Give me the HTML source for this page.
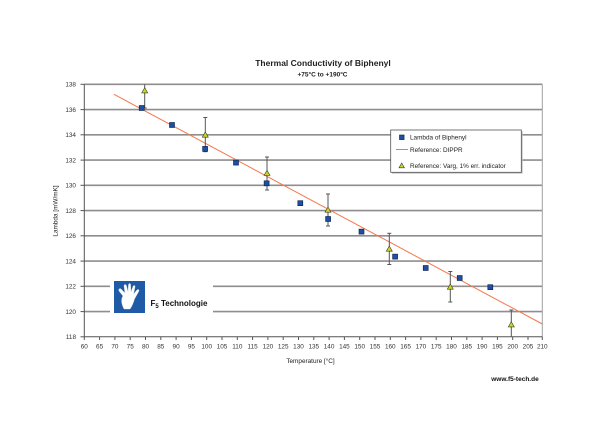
<!DOCTYPE html>
<html><head><meta charset="utf-8"><style>
html,body{margin:0;padding:0;background:#fff;}
svg{display:block;font-family:"Liberation Sans",Arial,sans-serif;}
</style></head><body>
<svg width="600" height="424" viewBox="0 0 600 424" xmlns="http://www.w3.org/2000/svg">
<rect width="600" height="424" fill="#fff"/>
<!-- title -->
<text x="323" y="66" font-size="8.5" font-weight="bold" text-anchor="middle" fill="#222">Thermal Conductivity of Biphenyl</text>
<text x="322.5" y="76.5" font-size="6.5" font-weight="bold" text-anchor="middle" fill="#222">+75°C to +190°C</text>
<!-- gridlines -->
<g stroke="#8e8e8e" stroke-width="1.6">
<line x1="84.3" y1="84.3" x2="542.3" y2="84.3"/>
<line x1="84.3" y1="109.6" x2="542.3" y2="109.6"/>
<line x1="84.3" y1="134.8" x2="542.3" y2="134.8"/>
<line x1="84.3" y1="160.1" x2="542.3" y2="160.1"/>
<line x1="84.3" y1="185.3" x2="542.3" y2="185.3"/>
<line x1="84.3" y1="210.6" x2="542.3" y2="210.6"/>
<line x1="84.3" y1="235.8" x2="542.3" y2="235.8"/>
<line x1="84.3" y1="261.1" x2="542.3" y2="261.1"/>
<line x1="84.3" y1="286.3" x2="542.3" y2="286.3"/>
<line x1="84.3" y1="311.6" x2="542.3" y2="311.6"/>
</g>
<line x1="542.3" y1="84.3" x2="542.3" y2="336.8" stroke="#a0a0a0" stroke-width="1"/>
<!-- logo box -->
<rect x="110" y="275" width="103" height="43" fill="#fff"/>
<rect x="114" y="281" width="31" height="32" fill="#1f5aa6"/>
<g fill="#fff" stroke="#dfe6f0" stroke-width="0.4">
<path d="M124 309 C121 303 121 299 123 296 L119 291 C118 289 120 288 121 289 L125 293 L124 286 C124 284 126 284 126.5 286 L128 292 L128.5 285 C128.6 283 130.6 283 130.6 285 L131 292 L133 286.5 C133.6 284.8 135.4 285.4 135 287 L133.5 294 L137 290 C138.2 288.8 139.6 290 138.8 291.3 L134.5 299 C133 304 131.5 307 130 309 Z"/>
</g>
<text x="150.5" y="306" font-size="8" font-weight="bold" fill="#111">F<tspan font-size="6" dy="2">5</tspan><tspan dy="-2"> Technologie</tspan></text>
<!-- axes -->
<g stroke="#555" stroke-width="1">
<line x1="84.3" y1="84.3" x2="84.3" y2="336.8"/>
<line x1="84.3" y1="336.8" x2="542.3" y2="336.8"/>
</g>
<g stroke="#555" stroke-width="1">
<line x1="80.5" y1="84.3" x2="84.3" y2="84.3"/>
<line x1="80.5" y1="109.6" x2="84.3" y2="109.6"/>
<line x1="80.5" y1="134.8" x2="84.3" y2="134.8"/>
<line x1="80.5" y1="160.1" x2="84.3" y2="160.1"/>
<line x1="80.5" y1="185.3" x2="84.3" y2="185.3"/>
<line x1="80.5" y1="210.6" x2="84.3" y2="210.6"/>
<line x1="80.5" y1="235.8" x2="84.3" y2="235.8"/>
<line x1="80.5" y1="261.1" x2="84.3" y2="261.1"/>
<line x1="80.5" y1="286.3" x2="84.3" y2="286.3"/>
<line x1="80.5" y1="311.6" x2="84.3" y2="311.6"/>
<line x1="80.5" y1="336.8" x2="84.3" y2="336.8"/>
</g>
<g font-size="6.4" fill="#333" text-anchor="end">
<text x="76" y="86.6">138</text>
<text x="76" y="111.9">136</text>
<text x="76" y="137.1">134</text>
<text x="76" y="162.4">132</text>
<text x="76" y="187.6">130</text>
<text x="76" y="212.9">128</text>
<text x="76" y="238.1">126</text>
<text x="76" y="263.4">124</text>
<text x="76" y="288.6">122</text>
<text x="76" y="313.9">120</text>
<text x="76" y="339.1">118</text>
</g>
<g stroke="#555" stroke-width="1">
<line x1="84.3" y1="336.8" x2="84.3" y2="340"/><line x1="99.6" y1="336.8" x2="99.6" y2="340"/><line x1="114.9" y1="336.8" x2="114.9" y2="340"/><line x1="130.2" y1="336.8" x2="130.2" y2="340"/><line x1="145.5" y1="336.8" x2="145.5" y2="340"/><line x1="160.8" y1="336.8" x2="160.8" y2="340"/><line x1="176.1" y1="336.8" x2="176.1" y2="340"/><line x1="191.4" y1="336.8" x2="191.4" y2="340"/><line x1="206.7" y1="336.8" x2="206.7" y2="340"/><line x1="222" y1="336.8" x2="222" y2="340"/><line x1="237.3" y1="336.8" x2="237.3" y2="340"/><line x1="252.6" y1="336.8" x2="252.6" y2="340"/><line x1="267.9" y1="336.8" x2="267.9" y2="340"/><line x1="283.2" y1="336.8" x2="283.2" y2="340"/><line x1="298.5" y1="336.8" x2="298.5" y2="340"/><line x1="313.8" y1="336.8" x2="313.8" y2="340"/><line x1="329.1" y1="336.8" x2="329.1" y2="340"/><line x1="344.4" y1="336.8" x2="344.4" y2="340"/><line x1="359.7" y1="336.8" x2="359.7" y2="340"/><line x1="375" y1="336.8" x2="375" y2="340"/><line x1="390.3" y1="336.8" x2="390.3" y2="340"/><line x1="405.6" y1="336.8" x2="405.6" y2="340"/><line x1="420.9" y1="336.8" x2="420.9" y2="340"/><line x1="436.2" y1="336.8" x2="436.2" y2="340"/><line x1="451.5" y1="336.8" x2="451.5" y2="340"/><line x1="466.8" y1="336.8" x2="466.8" y2="340"/><line x1="482.1" y1="336.8" x2="482.1" y2="340"/><line x1="497.4" y1="336.8" x2="497.4" y2="340"/><line x1="512.7" y1="336.8" x2="512.7" y2="340"/><line x1="528" y1="336.8" x2="528" y2="340"/><line x1="542.3" y1="336.8" x2="542.3" y2="340"/>
</g>
<g font-size="6.4" fill="#333" text-anchor="middle">
<text x="84.3" y="348.7">60</text><text x="99.6" y="348.7">65</text><text x="114.9" y="348.7">70</text><text x="130.2" y="348.7">75</text><text x="145.5" y="348.7">80</text><text x="160.8" y="348.7">85</text><text x="176.1" y="348.7">90</text><text x="191.4" y="348.7">95</text><text x="206.7" y="348.7">100</text><text x="222" y="348.7">105</text><text x="237.3" y="348.7">110</text><text x="252.6" y="348.7">115</text><text x="267.9" y="348.7">120</text><text x="283.2" y="348.7">125</text><text x="298.5" y="348.7">130</text><text x="313.8" y="348.7">135</text><text x="329.1" y="348.7">140</text><text x="344.4" y="348.7">145</text><text x="359.7" y="348.7">150</text><text x="375" y="348.7">155</text><text x="390.3" y="348.7">160</text><text x="405.6" y="348.7">165</text><text x="420.9" y="348.7">170</text><text x="436.2" y="348.7">175</text><text x="451.5" y="348.7">180</text><text x="466.8" y="348.7">185</text><text x="482.1" y="348.7">190</text><text x="497.4" y="348.7">195</text><text x="512.7" y="348.7">200</text><text x="528" y="348.7">205</text><text x="542.3" y="348.7">210</text>
</g>
<text x="310.5" y="362.8" font-size="6.4" fill="#222" text-anchor="middle">Temperature [°C]</text>
<text transform="translate(57.3,211) rotate(-90)" font-size="6.4" fill="#222" text-anchor="middle">Lambda [mW/mK]</text>
<text x="538.7" y="381.2" font-size="6.5" font-weight="bold" fill="#111" text-anchor="end">www.f5-tech.de</text>
<!-- DIPPR line -->
<line x1="114" y1="94.3" x2="542.3" y2="324" stroke="#f5764a" stroke-width="1"/>
<!-- error bars -->
<g stroke="#555" stroke-width="1">
<line x1="144.7" y1="84.3" x2="144.7" y2="108"/><line x1="142.7" y1="108" x2="146.7" y2="108"/>
<line x1="205.3" y1="117.5" x2="205.3" y2="151.7"/><line x1="203.3" y1="117.5" x2="207.3" y2="117.5"/><line x1="203.3" y1="151.7" x2="207.3" y2="151.7"/>
<line x1="267" y1="157" x2="267" y2="190"/><line x1="265" y1="157" x2="269" y2="157"/><line x1="265" y1="190" x2="269" y2="190"/>
<line x1="328" y1="194" x2="328" y2="226"/><line x1="326" y1="194" x2="330" y2="194"/><line x1="326" y1="226" x2="330" y2="226"/>
<line x1="389.3" y1="233.3" x2="389.3" y2="264.5"/><line x1="387.3" y1="233.3" x2="391.3" y2="233.3"/><line x1="387.3" y1="264.5" x2="391.3" y2="264.5"/>
<line x1="450.3" y1="271.5" x2="450.3" y2="302"/><line x1="448.3" y1="271.5" x2="452.3" y2="271.5"/><line x1="448.3" y1="302" x2="452.3" y2="302"/>
<line x1="511.3" y1="310" x2="511.3" y2="336.8"/><line x1="509.3" y1="310" x2="513.3" y2="310"/>
</g>
<!-- squares -->
<g fill="#1f4fa0" stroke="#0b1e4a" stroke-width="0.6">
<rect x="139.2" y="105.5" width="5" height="5"/>
<rect x="169.5" y="122.5" width="5" height="5"/>
<rect x="202.6" y="146.4" width="5" height="5"/>
<rect x="233.5" y="160.1" width="5" height="5"/>
<rect x="264.1" y="180.8" width="5" height="5"/>
<rect x="297.8" y="200.7" width="5" height="5"/>
<rect x="325.6" y="216.5" width="5" height="5"/>
<rect x="359" y="229.1" width="5" height="5"/>
<rect x="392.6" y="254.1" width="5" height="5"/>
<rect x="423.2" y="265.5" width="5" height="5"/>
<rect x="457.2" y="275.5" width="5" height="5"/>
<rect x="487.8" y="284.7" width="5" height="5"/>
</g>
<!-- triangles -->
<g fill="#c9d92b" stroke="#3a3a1a" stroke-width="0.6">
<path d="M144.7 87.7 L147.7 92.9 L141.7 92.9 Z"/>
<path d="M205.3 132 L208.3 137.2 L202.3 137.2 Z"/>
<path d="M267 170.3 L270 175.5 L264 175.5 Z"/>
<path d="M328 207 L331 212.2 L325 212.2 Z"/>
<path d="M389.3 246 L392.3 251.2 L386.3 251.2 Z"/>
<path d="M450.3 284 L453.3 289.2 L447.3 289.2 Z"/>
<path d="M511.3 321.7 L514.3 326.9 L508.3 326.9 Z"/>
</g>
<!-- legend -->
<rect x="392" y="131.3" width="130.6" height="42.3" fill="#bbb"/>
<rect x="390.7" y="130" width="130.6" height="42.3" fill="#fff" stroke="#555" stroke-width="0.8"/>
<rect x="399.5" y="135" width="4.6" height="4.6" fill="#1f4fa0" stroke="#0b1e4a" stroke-width="0.6"/>
<text x="410" y="139.6" font-size="6.4" fill="#222">Lambda of Biphenyl</text>
<line x1="396" y1="149.5" x2="408" y2="149.5" stroke="#f5764a" stroke-width="1"/>
<text x="410" y="151.8" font-size="6.4" fill="#222">Reference: DIPPR</text>
<path d="M401.7 163 L404.4 167.8 L399 167.8 Z" fill="#c9d92b" stroke="#3a3a1a" stroke-width="0.6"/>
<text x="410" y="168" font-size="6.4" fill="#222">Reference: Varg, 1% err. indicator</text>
</svg>
</body></html>
